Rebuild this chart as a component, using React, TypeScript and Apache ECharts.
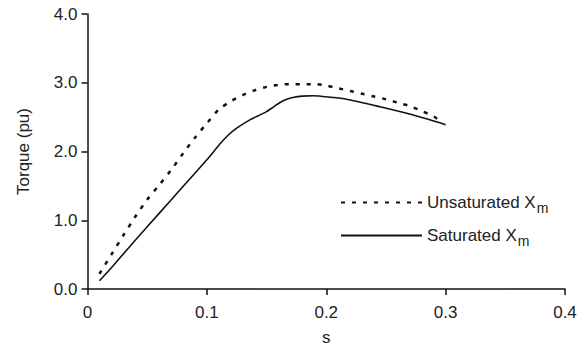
import React, { useEffect, useRef } from "react";
import * as echarts from "echarts";

const xTicks = [0, 0.1, 0.2, 0.3, 0.4];
const yTicks = [0, 1, 2, 3, 4];

const unsatS = [0.01, 0.02, 0.03, 0.04, 0.05, 0.06, 0.07, 0.08, 0.09, 0.1, 0.11, 0.12, 0.13, 0.14, 0.15, 0.16, 0.17, 0.18, 0.19, 0.2, 0.21, 0.22, 0.23, 0.24, 0.25, 0.26, 0.27, 0.28, 0.29, 0.295];
const unsatT = [0.22, 0.5, 0.78, 1.05, 1.3, 1.51, 1.73, 1.97, 2.2, 2.41, 2.61, 2.73, 2.82, 2.89, 2.94, 2.97, 2.98, 2.98, 2.98, 2.96, 2.92, 2.88, 2.84, 2.8, 2.76, 2.71, 2.66, 2.59, 2.51, 2.45];

const satS = [0.01, 0.02, 0.04, 0.06, 0.08, 0.1, 0.112, 0.118, 0.125, 0.136, 0.143, 0.15, 0.156, 0.161, 0.167, 0.172, 0.18, 0.189, 0.203, 0.217, 0.245, 0.273, 0.3];
const satT = [0.12, 0.31, 0.71, 1.1, 1.49, 1.88, 2.13, 2.24, 2.34, 2.46, 2.52, 2.58, 2.65, 2.71, 2.76, 2.785, 2.805, 2.81, 2.79, 2.76, 2.65, 2.53, 2.39];

const seriesNames = ["Unsaturated Xm", "Saturated Xm"];

const FONT = "Liberation Sans, Arial, Helvetica, sans-serif";
const TXT = "#222";

export default function App() {
  const ref = useRef<HTMLDivElement>(null);
  useEffect(() => {
    if (!ref.current) return;
    const chart = echarts.init(ref.current, null, { renderer: "svg" });
    chart.setOption({
      animation: false,
      backgroundColor: "#fff",
      grid: { left: 87.5, right: 22, top: 14, bottom: 56, containLabel: false, outerBoundsMode: "none" },
      xAxis: {
        type: "value",
        min: xTicks[0],
        max: xTicks[xTicks.length - 1],
        interval: 0.1,
        name: "s",
        nameLocation: "middle",
        nameGap: 40,
        nameTextStyle: { fontSize: 17, color: TXT, fontFamily: FONT },
        axisLine: { show: true, lineStyle: { color: "#111", width: 1.5 } },
        axisTick: { show: true, length: 6, lineStyle: { color: "#111", width: 1.5 } },
        axisLabel: { fontSize: 17, color: TXT, fontFamily: FONT, margin: 15 },
        splitLine: { show: false },
      },
      yAxis: {
        type: "value",
        min: yTicks[0],
        max: yTicks[yTicks.length - 1],
        interval: 1,
        name: "Torque (pu)",
        nameLocation: "middle",
        nameGap: 56,
        nameTextStyle: { fontSize: 17, color: TXT, fontFamily: FONT },
        axisLine: { show: true, lineStyle: { color: "#111", width: 1.5 } },
        axisTick: { show: true, length: 6, lineStyle: { color: "#111", width: 1.5 } },
        axisLabel: {
          fontSize: 17,
          color: TXT,
          fontFamily: FONT,
          margin: 10,
          formatter: (v: number) => v.toFixed(1),
        },
        splitLine: { show: false },
      },
      legend: {
        orient: "vertical",
        left: 340,
        top: 194,
        padding: 0,
        itemWidth: 81,
        itemHeight: 14,
        itemGap: 12,
        itemStyle: { opacity: 0 },
        data: seriesNames,
        formatter: (name: string) => `{a|${name.slice(0, -1)}}{b|m}`,
        textStyle: {
          fontFamily: FONT,
          rich: {
            a: { fontSize: 17, color: TXT, fontFamily: FONT, lineHeight: 24 },
            b: { fontSize: 14, color: TXT, fontFamily: FONT, verticalAlign: "bottom", padding: [11, 0, 0, 1] },
          },
        },
      },
      series: [
        {
          name: seriesNames[0],
          type: "line",
          showSymbol: false,
          symbol: "none",
          smooth: 0.3,
          data: unsatS.map((s, i) => [s, unsatT[i]]),
          lineStyle: { color: "#111", width: 2.5, type: [4, 7] },
          itemStyle: { color: "#111" },
        },
        {
          name: seriesNames[1],
          type: "line",
          showSymbol: false,
          symbol: "none",
          smooth: 0.25,
          data: satS.map((s, i) => [s, satT[i]]),
          lineStyle: { color: "#111", width: 1.6, type: "solid" },
          itemStyle: { color: "#111" },
        },
      ],
    });
    return () => chart.dispose();
  }, []);
  return (
    <div
      ref={ref}
      style={{ position: "fixed", left: 0, top: 0, width: 587, height: 345, background: "#fff" }}
    />
  );
}
